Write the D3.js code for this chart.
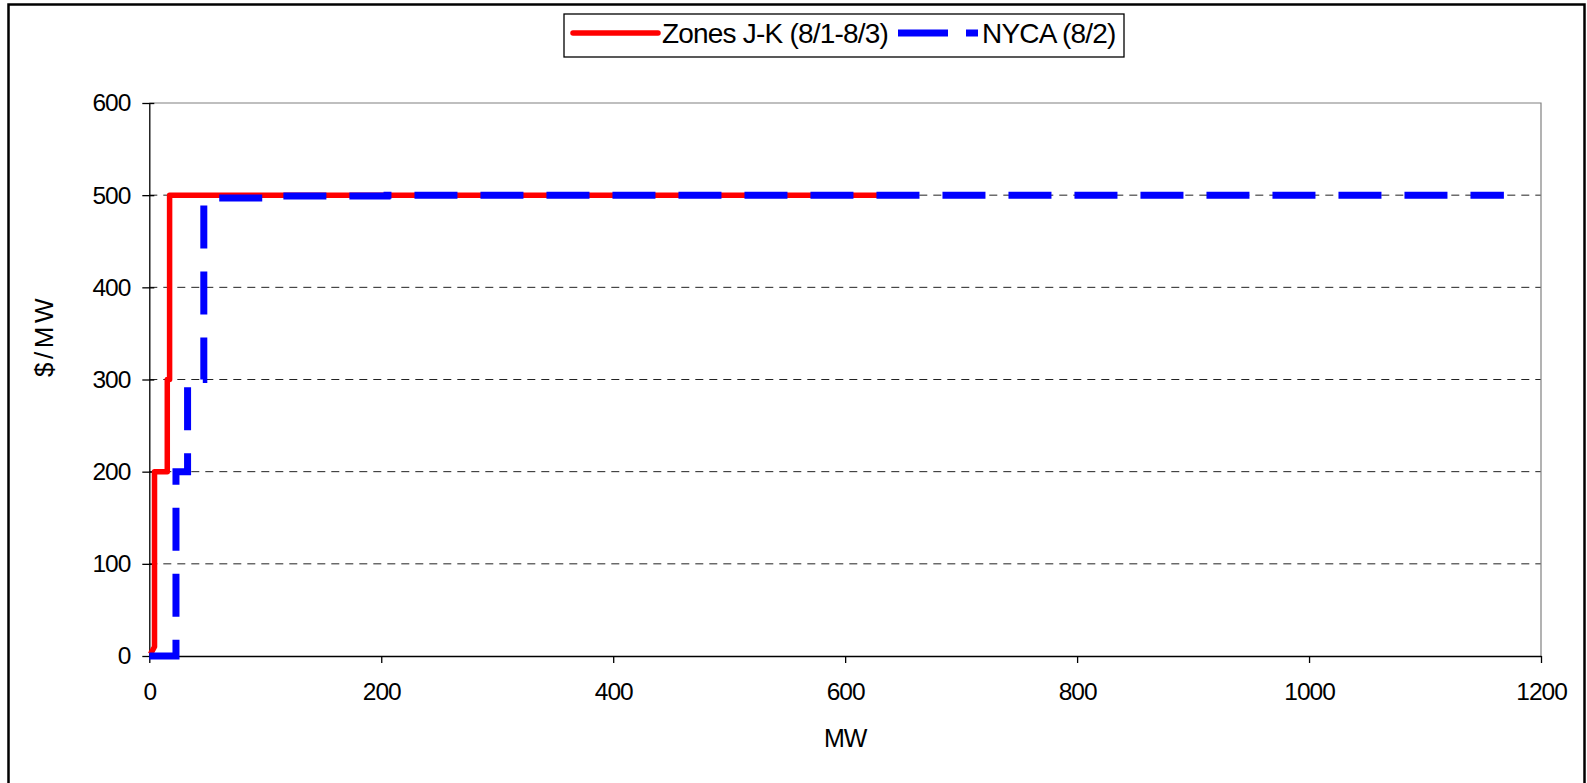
<!DOCTYPE html>
<html>
<head>
<meta charset="utf-8">
<script src="https://cdn.jsdelivr.net/npm/d3@7"></script>
<style>
  body { margin: 0; background: #fff; }
  text { font-family: "Liberation Sans", Arial, sans-serif; fill: #000; }
</style>
</head>
<body>
<svg id="svg" width="1587" height="783"></svg>
<script>
const WIDTH = 1587, HEIGHT = 783;

// step curves: MW vs $/MW
const zonesMW    = [1, 4.5, 4.5, 15.5, 15.5, 17.5, 17.5, 655];
const zonesPrice = [2, 10, 200, 200, 300, 300, 500, 500];
const nycaMW     = [0, 23, 23, 33, 33, 47, 47, 110, 110, 205, 205, 1168];
const nycaPrice  = [0, 0, 200, 200, 300, 300, 497, 497, 499, 499, 500, 500];

const xTicks = [0, 200, 400, 600, 800, 1000, 1200];
const yTicks = [0, 100, 200, 300, 400, 500, 600];
const seriesNames = ['Zones J-K (8/1-8/3)', 'NYCA (8/2)'];

const plot = {left: 149.3, top: 103, right: 1541, bottom: 656};

const svg = d3.select('#svg');
const x = d3.scaleLinear().domain([0, 1200]).range([plot.left, plot.right]);
const y = d3.scaleLinear().domain([0, 600]).range([plot.bottom, plot.top]);

// outer frame (bottom edge falls off the picture)
svg.append('rect').attr('x', 8.5).attr('y', 4.5).attr('width', 1576).attr('height', 800)
    .attr('fill', 'none').attr('stroke', '#000').attr('stroke-width', 2.5);

// grid
svg.append('g').selectAll('line').data(yTicks.filter(d => d > 0 && d < 600)).join('line')
    .attr('x1', plot.left).attr('x2', plot.right)
    .attr('y1', d => y(d)).attr('y2', d => y(d))
    .attr('stroke', '#222').attr('stroke-width', 1).attr('stroke-dasharray', '8,6');

// plot border top/right
svg.append('path')
    .attr('d', `M${plot.left},${plot.top}H${plot.right}V${plot.bottom}`)
    .attr('fill', 'none').attr('stroke', '#808080').attr('stroke-width', 1.2);

// axes
const yAxis = d3.axisLeft(y).tickValues(yTicks).tickFormat(d3.format('d'))
    .tickSizeInner(7).tickSizeOuter(0).tickPadding(12);
const gy = svg.append('g').attr('transform', `translate(${plot.left},0)`).call(yAxis);
gy.selectAll('.tick line').attr('x2', -7).attr('x1', 5);
const xAxis = d3.axisBottom(x).tickValues(xTicks).tickFormat(d3.format('d'))
    .tickSizeInner(7).tickSizeOuter(0).tickPadding(20);
const gx = svg.append('g').attr('transform', `translate(0,${plot.bottom})`).call(xAxis);
[gx, gy].forEach(g => {
    g.select('.domain').attr('stroke', '#000').attr('stroke-width', 1.3);
    g.selectAll('.tick line').attr('stroke', '#000').attr('stroke-width', 1.3);
    g.selectAll('.tick text').attr('font-size', 24.5).attr('font-family', '"Liberation Sans", Arial, sans-serif')
        .attr('letter-spacing', '-1px');
});

// series
const line = d3.line().x(d => x(d[0])).y(d => y(d[1]));
const zones = d3.zip(zonesMW, zonesPrice);
const nyca = d3.zip(nycaMW, nycaPrice);
svg.append('path').datum(zones).attr('d', line)
    .attr('fill', 'none').attr('stroke', '#ff0000').attr('stroke-width', 5.5).attr('stroke-linejoin', 'round');
svg.append('path').datum(nyca).attr('d', line)
    .attr('fill', 'none').attr('stroke', '#0000ff').attr('stroke-width', 7).attr('stroke-dasharray', '43,23');

// axis titles
svg.append('text').attr('x', (plot.left + plot.right) / 2).attr('y', 747)
    .attr('text-anchor', 'middle').attr('font-size', 25).attr('letter-spacing', '-1px').text('MW');
svg.append('text').attr('transform', 'translate(53,336) rotate(-90)')
    .attr('text-anchor', 'middle').attr('font-size', 26).attr('letter-spacing', '3.5px').text('$/MW');

// legend
const lg = svg.append('g');
lg.append('rect').attr('x', 564).attr('y', 14).attr('width', 560).attr('height', 43)
    .attr('fill', '#fff').attr('stroke', '#000').attr('stroke-width', 1.3);
lg.append('line').attr('x1', 573).attr('x2', 658).attr('y1', 33).attr('y2', 33)
    .attr('stroke', '#ff0000').attr('stroke-width', 5.5).attr('stroke-linecap', 'round');
lg.append('text').attr('x', 662).attr('y', 43).attr('font-size', 28).attr('letter-spacing', '-0.8px').text(seriesNames[0]);
lg.append('line').attr('x1', 898).attr('x2', 978).attr('y1', 33).attr('y2', 33)
    .attr('stroke', '#0000ff').attr('stroke-width', 7).attr('stroke-dasharray', '50,18');
lg.append('text').attr('x', 982).attr('y', 43).attr('font-size', 28).attr('letter-spacing', '-0.8px').text(seriesNames[1]);
</script>
</body>
</html>
